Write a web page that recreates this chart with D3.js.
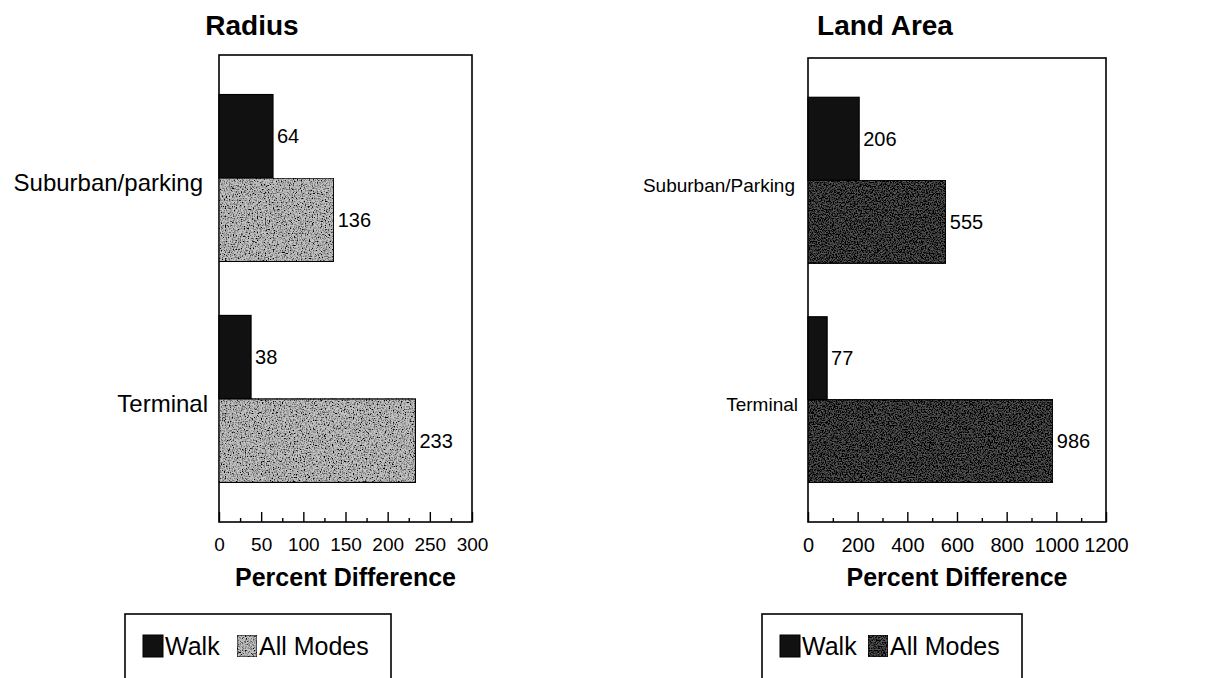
<!DOCTYPE html>
<html>
<head>
<meta charset="utf-8">
<script src="https://cdn.jsdelivr.net/npm/d3@7"></script>
<style>
  body { margin: 0; background: #fff; }
  text { font-family: "Liberation Sans", Arial, sans-serif; fill: #000; }
</style>
</head>
<body>
<script>
// Data
const series = ['Walk', 'All Modes']

const radiusCategories = ['Suburban/parking', 'Terminal']
const radiusWalk = [64, 38]
const radiusAllModes = [136, 233]
const radiusTicks = [0, 50, 100, 150, 200, 250, 300]

const landCategories = ['Suburban/Parking', 'Terminal']
const landWalk = [206, 77]
const landAllModes = [555, 986]
const landTicks = [0, 200, 400, 600, 800, 1000, 1200]

const svg = d3.select('body').append('svg')
    .attr('width', 1225)
    .attr('height', 678)

// Grain filters to imitate the scanned stipple fill
const defs = svg.append('defs')
const addGrain = (id, seed, gain, offset) => {
    const f = defs.append('filter').attr('id', id)
        .attr('x', 0).attr('y', 0).attr('width', 1).attr('height', 1)
    f.append('feTurbulence')
        .attr('type', 'fractalNoise')
        .attr('baseFrequency', 0.75)
        .attr('numOctaves', 2)
        .attr('seed', seed)
        .attr('result', 'noise')
    f.append('feColorMatrix')
        .attr('in', 'noise')
        .attr('type', 'matrix')
        .attr('values', `0 0 0 0 0  0 0 0 0 0  0 0 0 0 0  ${gain} 0 0 0 ${offset}`)
        .attr('result', 'dots')
    f.append('feComposite')
        .attr('in', 'dots')
        .attr('in2', 'SourceAlpha')
        .attr('operator', 'in')
        .attr('result', 'clipped')
    const m = f.append('feMerge')
    m.append('feMergeNode').attr('in', 'SourceGraphic')
    m.append('feMergeNode').attr('in', 'clipped')
}
addGrain('grain-light', 3, 3.2, -1.35)
addGrain('grain-dark', 7, 3.6, -1.15)

const drawPanel = cfg => {
    const g = svg.append('g')

    const x = d3.scaleLinear()
        .domain([cfg.ticks[0], cfg.ticks[cfg.ticks.length - 1]])
        .range([cfg.left, cfg.right])

    const y = d3.scaleBand()
        .domain(cfg.categories)
        .range([cfg.top, cfg.bottom])
        .paddingInner(0.244)
        .paddingOuter(0.179)

    const ySub = d3.scaleBand()
        .domain(series)
        .range([0, y.bandwidth()])

    // Frame
    g.append('rect')
        .attr('x', cfg.left)
        .attr('y', cfg.top)
        .attr('width', cfg.right - cfg.left)
        .attr('height', cfg.bottom - cfg.top)
        .attr('fill', 'none')
        .attr('stroke', '#000')
        .attr('stroke-width', 1.6)

    // Title
    g.append('text')
        .attr('x', cfg.titleX)
        .attr('y', 35)
        .attr('text-anchor', 'middle')
        .style('font-size', '28px')
        .style('font-weight', 'bold')
        .text(cfg.title)

    // Bars
    const rows = cfg.categories.map((c, i) => [
        { cat: c, s: 'Walk', v: cfg.walk[i] },
        { cat: c, s: 'All Modes', v: cfg.allModes[i] }
    ]).flat()

    g.selectAll('.bar')
        .data(rows)
        .join('rect')
        .attr('class', 'bar')
        .attr('x', x(0))
        .attr('y', d => y(d.cat) + ySub(d.s))
        .attr('width', d => x(d.v) - x(0))
        .attr('height', ySub.bandwidth())
        .attr('fill', d => d.s === 'Walk' ? '#111' : cfg.allFill)
        .attr('stroke', '#000')
        .attr('stroke-width', 1.2)
        .attr('filter', d => d.s === 'Walk' ? null : `url(#${cfg.grain})`)

    // Value labels
    g.selectAll('.val')
        .data(rows)
        .join('text')
        .attr('class', 'val')
        .attr('x', d => x(d.v) + 4)
        .attr('y', d => y(d.cat) + ySub(d.s) + ySub.bandwidth() / 2)
        .attr('dy', '0.35em')
        .style('font-size', cfg.valSize)
        .text(d => d.v)

    // Category labels
    g.selectAll('.cat')
        .data(cfg.categories)
        .join('text')
        .attr('class', 'cat')
        .attr('x', (d, i) => cfg.catX[i])
        .attr('y', d => y(d) + y.bandwidth() / 2 + 5)
        .attr('dy', '0.35em')
        .attr('text-anchor', 'end')
        .style('font-size', cfg.catSize)
        .text(d => d)

    // Axis: major ticks pointing inside
    const axis = g.append('g')
        .attr('transform', `translate(0, ${cfg.bottom})`)
        .call(d3.axisBottom(x).tickValues(cfg.ticks).tickFormat(d3.format('d')).tickSize(-10).tickPadding(16))
    axis.select('.domain').remove()
    axis.selectAll('line').attr('stroke-width', 1.4)
    axis.selectAll('text')
        .style('font-size', cfg.tickSize)
        .style('font-family', '"Liberation Sans", Arial, sans-serif')

    // Minor ticks
    const minor = cfg.ticks.slice(1).map((t, i) => (t + cfg.ticks[i]) / 2)
    const minorAxis = g.append('g')
        .attr('transform', `translate(0, ${cfg.bottom})`)
        .call(d3.axisBottom(x).tickValues(minor).tickSize(-4).tickFormat(''))
    minorAxis.select('.domain').remove()
    minorAxis.selectAll('line').attr('stroke-width', 1.4)

    // Axis title
    g.append('text')
        .attr('x', (cfg.left + cfg.right) / 2)
        .attr('y', 586)
        .attr('text-anchor', 'middle')
        .style('font-size', '25px')
        .style('font-weight', 'bold')
        .text('Percent Difference')

    // Legend
    const lg = g.append('g')
    lg.append('rect')
        .attr('x', cfg.legend.x)
        .attr('y', 614)
        .attr('width', cfg.legend.w)
        .attr('height', 80)
        .attr('fill', 'none')
        .attr('stroke', '#000')
        .attr('stroke-width', 1.6)

    series.forEach((s, i) => {
        const sx = cfg.legend.items[i]
        lg.append('rect')
            .attr('x', sx)
            .attr('y', 635)
            .attr('width', 20)
            .attr('height', 22)
            .attr('fill', s === 'Walk' ? '#111' : cfg.allFill)
            .attr('stroke', '#000')
            .attr('stroke-width', 1)
            .attr('filter', s === 'Walk' ? null : `url(#${cfg.grain})`)
        lg.append('text')
            .attr('x', sx + 22)
            .attr('y', 646)
            .attr('dy', '0.35em')
            .style('font-size', '25px')
            .text(s)
    })
}

drawPanel({
    title: 'Radius', titleX: 252,
    categories: radiusCategories, walk: radiusWalk, allModes: radiusAllModes, ticks: radiusTicks,
    left: 219, right: 472, top: 55, bottom: 522,
    allFill: '#c4c4c4', grain: 'grain-light',
    catX: [203, 208], catSize: '24px', valSize: '20px', tickSize: '19px',
    legend: { x: 125, w: 266, items: [143, 237] }
})

drawPanel({
    title: 'Land Area', titleX: 885,
    categories: landCategories, walk: landWalk, allModes: landAllModes, ticks: landTicks,
    left: 808, right: 1106, top: 58, bottom: 522,
    allFill: '#5a5a5a', grain: 'grain-dark',
    catX: [795, 798], catSize: '19px', valSize: '20px', tickSize: '20px',
    legend: { x: 762, w: 260, items: [780, 868] }
})
</script>
</body>
</html>
